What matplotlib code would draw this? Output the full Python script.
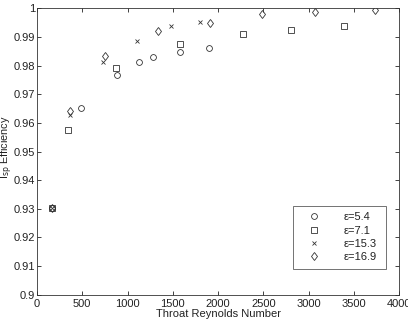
import matplotlib
matplotlib.use("Agg")
import matplotlib.pyplot as plt

plt.rcParams['font.family'] = ['Liberation Sans', 'DejaVu Sans']

re_54 = [162, 483, 880, 1131, 1278, 1577, 1897]
eff_54 = [0.9302, 0.9653, 0.9766, 0.9811, 0.9829, 0.9848, 0.9861]
re_71 = [162, 339, 869, 1576, 2280, 2810, 3392]
eff_71 = [0.9302, 0.9574, 0.9793, 0.9877, 0.9910, 0.9925, 0.9940]
re_153 = [162, 361, 733, 1109, 1477, 1797]
eff_153 = [0.9302, 0.9628, 0.9812, 0.9885, 0.9937, 0.9954]
re_169 = [162, 368, 755, 1333, 1911, 2490, 3068, 3731]
eff_169 = [0.9302, 0.9642, 0.9834, 0.9921, 0.9949, 0.9980, 0.9989, 0.9993]
labels = ['ε=5.4', 'ε=7.1', 'ε=15.3', 'ε=16.9']

xticks = [0, 500, 1000, 1500, 2000, 2500, 3000, 3500, 4000]
yticks = [0.9, 0.91, 0.92, 0.93, 0.94, 0.95, 0.96, 0.97, 0.98, 0.99, 1.0]
yticklabels = ['0.9', '0.91', '0.92', '0.93', '0.94', '0.95', '0.96', '0.97', '0.98', '0.99', '1']

fig = plt.figure(figsize=(4.08, 3.22), dpi=100)
ax = fig.add_axes([0.0907, 0.0848, 0.8873, 0.8892])

kw = dict(linestyle='none', color='#333333', markerfacecolor='none', markeredgewidth=0.6)
ax.plot(re_54, eff_54, marker='o', markersize=4.2, label=labels[0], **kw)
ax.plot(re_71, eff_71, marker='s', markersize=3.7, label=labels[1], **kw)
ax.plot(re_153, eff_153, marker='x', markersize=3.2, label=labels[2], **kw)
ax.plot(re_169, eff_169, marker='d', markersize=4.5, label=labels[3], **kw)

ax.set_xlim(0, 4000)
ax.set_ylim(0.9, 1.0)
ax.set_xticks(xticks)
ax.set_xticklabels([str(t) for t in xticks])
ax.set_yticks(yticks)
ax.set_yticklabels(yticklabels)
ax.tick_params(direction='in', top=True, right=True, labelsize=8, length=3, width=0.6, pad=1.5, colors='#222222')
ax.tick_params(axis='x', pad=3)
for s in ax.spines.values():
    s.set_linewidth(0.6)
    s.set_color('#333333')

ax.set_xlabel('Throat Reynolds Number', fontsize=8, labelpad=0, color='#222222')
ax.set_ylabel('I$_{\\mathrm{sp}}$ Efficiency', fontsize=7.8, color='#222222')
ax.yaxis.set_label_coords(-0.062, 0.516)

leg = ax.legend(loc='lower left', bbox_to_anchor=(0.707, 0.09, 0.257, 0.234), mode='expand',
                fontsize=8, frameon=True, fancybox=False, handlelength=2.6, handletextpad=1.4,
                borderpad=0.6, labelspacing=0.3, borderaxespad=0)
leg.get_frame().set_edgecolor('#333333')
leg.get_frame().set_linewidth(0.6)
for t in leg.get_texts():
    t.set_color('#222222')

fig.savefig('out.png', dpi=100)
